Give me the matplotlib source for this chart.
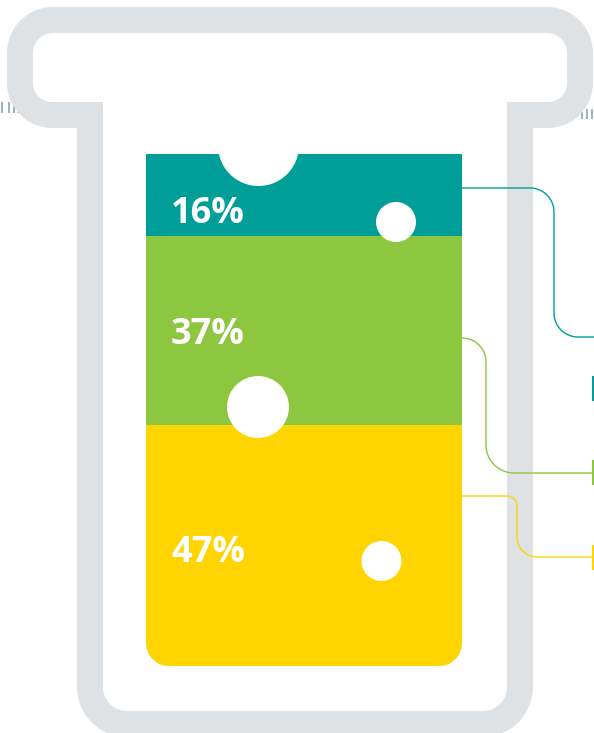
import numpy as np
import matplotlib
matplotlib.use("Agg")
import matplotlib.pyplot as plt
from matplotlib.path import Path
from matplotlib.patches import PathPatch, Circle, Rectangle

# ---- data ----
categories = ["A", "B", "C"]
values = [16, 37, 47]
labels = ["16%", "37%", "47%"]
colors = ["#009e99", "#8dc63f", "#ffd400"]

GRAY = "#dfe2e5"
TICK = "#8a9ca6"

W, H = 594, 733
fig = plt.figure(figsize=(W / 100, H / 100), dpi=100)
ax_bg = fig.add_axes([0, 0, 1, 1])
ax_bg.set_xlim(0, W)
ax_bg.set_ylim(H, 0)
ax_bg.axis("off")


def rounded(points, radii, n=24):
    """polyline through points with circular-arc corners (radii for interior vertices)."""
    pts = [np.array(points[0], float)]
    for i in range(1, len(points) - 1):
        p0 = np.array(points[i - 1], float)
        v = np.array(points[i], float)
        p2 = np.array(points[i + 1], float)
        r = radii[i - 1]
        if r <= 0:
            pts.append(v)
            continue
        d1 = (v - p0) / np.linalg.norm(v - p0)
        d2 = (p2 - v) / np.linalg.norm(p2 - v)
        a = v - d1 * r
        b = v + d2 * r
        c = a + d2 * r
        sa = np.arctan2(*(a - c)[::-1])
        sb = np.arctan2(*(b - c)[::-1])
        diff = (sb - sa + np.pi) % (2 * np.pi) - np.pi
        for t in np.linspace(0, 1, n):
            ang = sa + diff * t
            pts.append(c + r * np.array([np.cos(ang), np.sin(ang)]))
    pts.append(np.array(points[-1], float))
    return np.array(pts)


# ---- glass outline ----
outline_pts = [(90, 400), (90, 115), (20, 115), (20, 20), (580, 20), (580, 115),
               (520, 115), (520, 724), (90, 724), (90, 400)]
outline_r = [0, 32, 33, 33, 32, 0, 37, 37]
ov = rounded(outline_pts, outline_r)
codes = [Path.MOVETO] + [Path.LINETO] * (len(ov) - 2) + [Path.CLOSEPOLY]
ax_bg.add_patch(PathPatch(Path(ov, codes), facecolor="none", edgecolor=GRAY,
                          lw=26 * 72 / 100, joinstyle="miter", capstyle="butt", zorder=1))

# small tick marks
for x in [2, 9, 14, 18]:
    ax_bg.plot([x, x], [103, 112], color=TICK, lw=1.4, alpha=0.8, zorder=0.5)
for x in [582, 587, 592]:
    ax_bg.plot([x, x], [110, 118], color=TICK, lw=1.4, alpha=0.8, zorder=0.5)

# ---- connector lines ----
conn = [
    ([(462, 188), (554, 188), (554, 337), (596, 337)], [24, 24]),
    ([(462, 338), (486, 338), (486, 473), (596, 473)], [24, 28]),
    ([(462, 496), (517, 496), (517, 557), (596, 557)], [10, 20]),
]
marks = [(376, 401), (460, 485), (545, 570)]
for (pts, rr), col, (m0, m1) in zip(conn, colors, marks):
    p = rounded(pts, rr)
    ax_bg.plot(p[:, 0], p[:, 1], color=col, lw=1.0, zorder=3, solid_capstyle="butt")
    ax_bg.add_patch(Rectangle((591.5, m0), 4, m1 - m0, facecolor=col,
                              edgecolor="none", zorder=3))

# ---- stacked bar ----
BX0, BX1, BY0, BY1 = 146, 462, 154, 666
ax_bar = fig.add_axes([BX0 / W, 1 - BY1 / H, (BX1 - BX0) / W, (BY1 - BY0) / H])
ax_bar.set_xlim(0, 1)
ax_bar.set_ylim(sum(values), 0)
ax_bar.axis("off")
ax_bar.patch.set_alpha(0)
bottoms = np.concatenate([[0], np.cumsum(values)[:-1]])
bars = ax_bar.bar([0.5] * len(values), values, width=1.0, bottom=bottoms,
                  color=colors, edgecolor="none", zorder=1)

clip_pts = [(BX0, 300), (BX0, BY0), (BX1, BY0), (BX1, BY1), (BX0, BY1), (BX0, 300)]
cv = rounded(clip_pts, [0, 0, 23, 23])
clip_patch = PathPatch(Path(cv, [Path.MOVETO] + [Path.LINETO] * (len(cv) - 2) + [Path.CLOSEPOLY]),
                       transform=ax_bg.transData, facecolor="none", edgecolor="none")
for b in bars:
    b.set_clip_path(clip_patch)

# bubbles
bubbles = [(258.5, 145.5, 40.5), (396, 222, 20), (258, 407, 31), (381.5, 561, 20)]
for cx, cy, r in bubbles:
    ax_bar.add_patch(Circle((cx, cy), r, transform=ax_bg.transData, facecolor="white",
                            edgecolor="none", zorder=5, clip_on=False))

# labels
label_baselines = [223, 344, 562]
for lab, yb in zip(labels, label_baselines):
    ax_bar.text(171, yb, lab, transform=ax_bg.transData, color="white",
                fontsize=26, fontweight="bold", family=["Open Sans", "DejaVu Sans"],
                ha="left", va="baseline", zorder=6, clip_on=False)

fig.savefig("out.png", dpi=100, facecolor="white")
